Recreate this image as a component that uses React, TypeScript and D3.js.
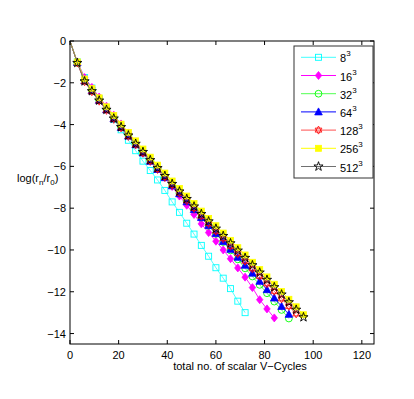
import React from 'react';
import * as d3 from 'd3';

// total no. of scalar V-cycles, one sample every 3 cycles
const cycles = [0, 3, 6, 9, 12, 15, 18, 21, 24, 27, 30, 33, 36, 39, 42, 45, 48, 51, 54, 57, 60, 63, 66, 69, 72, 75, 78, 81, 84, 87, 90, 93, 96];

const grids = ['8', '16', '32', '64', '128', '256', '512'];

const res8 = [0, -1.0, -1.75, -2.25, -2.75, -3.25, -3.75, -4.25, -4.75, -5.25, -5.75, -6.2, -6.65, -7.15, -7.7, -8.2, -8.72, -9.24, -9.78, -10.3, -10.85, -11.35, -11.85, -12.45, -13.0];
const res16 = [0, -1.0, -1.75, -2.22, -2.68, -3.12, -3.55, -3.97, -4.4, -4.83, -5.27, -5.7, -6.1, -6.52, -6.96, -7.42, -7.86, -8.3, -8.75, -9.17, -9.58, -10.0, -10.42, -10.86, -11.3, -11.8, -12.38, -12.82, -13.25];
const res32 = [0, -1.03, -1.88, -2.36, -2.82, -3.26, -3.69, -4.11, -4.52, -4.93, -5.33, -5.72, -6.11, -6.5, -6.89, -7.28, -7.67, -8.06, -8.45, -8.84, -9.23, -9.62, -10.02, -10.45, -10.88, -11.27, -11.67, -12.07, -12.47, -12.87, -13.28];
const res64 = [0, -1.03, -1.9, -2.38, -2.84, -3.29, -3.72, -4.14, -4.55, -4.96, -5.36, -5.76, -6.15, -6.54, -6.93, -7.31, -7.69, -8.07, -8.45, -8.83, -9.21, -9.59, -9.97, -10.35, -10.73, -11.11, -11.5, -11.9, -12.3, -12.7, -13.08];
const res128 = [0, -1.05, -1.95, -2.43, -2.88, -3.32, -3.75, -4.16, -4.57, -4.97, -5.37, -5.76, -6.15, -6.53, -6.91, -7.28, -7.65, -8.01, -8.38, -8.74, -9.1, -9.46, -9.82, -10.18, -10.54, -10.9, -11.26, -11.62, -11.98, -12.34, -12.7, -13.06];
const res256 = [0, -1.0, -1.82, -2.28, -2.72, -3.15, -3.57, -3.98, -4.38, -4.78, -5.17, -5.56, -5.94, -6.32, -6.7, -7.06, -7.42, -7.78, -8.14, -8.49, -8.84, -9.19, -9.54, -9.89, -10.24, -10.59, -10.94, -11.29, -11.64, -11.99, -12.36, -12.72, -13.1];
const res512 = [0, -1.05, -1.93, -2.4, -2.85, -3.29, -3.71, -4.12, -4.52, -4.92, -5.31, -5.7, -6.08, -6.46, -6.84, -7.2, -7.56, -7.92, -8.28, -8.63, -8.98, -9.33, -9.68, -10.03, -10.38, -10.73, -11.08, -11.43, -11.78, -12.13, -12.5, -12.86, -13.22];

const xTicks = [0, 20, 40, 60, 80, 100, 120];
const yTicks = [0, -2, -4, -6, -8, -10, -12, -14];

const allRes = [res8, res16, res32, res64, res128, res256, res512];
const colors = ['#00ffff', '#ff00ff', '#00ff00', '#0000ff', '#ff0000', '#ffff00', '#000000'];
const lineColors = ['#40ffff', '#ff00ff', '#50ff50', '#0000ff', '#ff5050', '#ffff00', '#707070'];
const markers = ['square', 'diamond', 'circle', 'triangle', 'hexagram', 'fsquare', 'star'];

const font = '"Liberation Sans", Arial, Helvetica, sans-serif';

function Marker({ kind, x, y, color }: { kind: string; x: number; y: number; color: string }) {
  const t = `translate(${x},${y})`;
  switch (kind) {
    case 'square':
      return <rect x={x - 3} y={y - 3} width={6} height={6} fill="none" stroke={color} strokeWidth={0.9} />;
    case 'fsquare':
      return <rect x={x - 3} y={y - 3} width={6} height={6} fill={color} stroke={color} strokeWidth={0.8} />;
    case 'diamond':
      return <path transform={t} d="M0,-4L3.2,0L0,4L-3.2,0Z" fill={color} stroke={color} strokeWidth={0.8} />;
    case 'circle':
      return <circle cx={x} cy={y} r={3.4} fill="none" stroke={color} strokeWidth={0.9} />;
    case 'triangle':
      return <path transform={t} d="M0,-4L3.8,3L-3.8,3Z" fill={color} stroke={color} strokeWidth={0.8} />;
    case 'hexagram':
      return <path transform={t} d="M0,-4L3.4,2L-3.4,2Z M0,4L3.4,-2L-3.4,-2Z" fill="none" stroke={color} strokeWidth={0.8} />;
    case 'star':
      return <path transform={t} d={d3.symbol(d3.symbolStar, 26)() || ''} fill="none" stroke={color} strokeWidth={0.9} />;
    default:
      return null;
  }
}

export default function App() {
  const width = 414;
  const height = 399;
  const x = d3.scaleLinear().domain([0, 125]).range([70, 374]);
  const y = d3.scaleLinear().domain([0, -14.5]).range([41, 344]);
  const line = d3.line<number>().x((_, i) => x(cycles[i])).y(d => y(d));
  const fmt = (v: number) => (v < 0 ? '\u2212' + Math.abs(v) : String(v));

  const legX0 = 294, legY0 = 46, legW = 79, legH = 132;

  return (
    <svg width={width} height={height} style={{ position: 'absolute', left: 0, top: 0, background: '#fff' }} fontFamily={font}>
      <rect width={width} height={height} fill="#fff" />

      {/* series */}
      {allRes.map((res, s) => (
        <g key={s}>
          <path d={line(res) || ''} fill="none" stroke={lineColors[s]} strokeWidth={0.9} />
          {res.map((v, i) => (i === 0 ? null : (
            <Marker key={i} kind={markers[s]} x={x(cycles[i])} y={y(v)} color={colors[s]} />
          )))}
        </g>
      ))}

      {/* axes box */}
      <rect x={x(0)} y={y(0)} width={x(125) - x(0)} height={y(-14.5) - y(0)} fill="none" stroke="#000" strokeWidth={1} />
      {xTicks.map(t => (
        <g key={t}>
          <line x1={x(t)} x2={x(t)} y1={y(-14.5)} y2={y(-14.5) - 4} stroke="#000" />
          <line x1={x(t)} x2={x(t)} y1={y(0)} y2={y(0) + 4} stroke="#000" />
          <text x={x(t)} y={y(-14.5) + 15} textAnchor="middle" fontSize={11}>{fmt(t)}</text>
        </g>
      ))}
      {yTicks.map(t => (
        <g key={t}>
          <line x1={x(0)} x2={x(0) + 4} y1={y(t)} y2={y(t)} stroke="#000" />
          <line x1={x(125)} x2={x(125) - 4} y1={y(t)} y2={y(t)} stroke="#000" />
          <text x={x(0) - 4} y={y(t) + 4} textAnchor="end" fontSize={11}>{fmt(t)}</text>
        </g>
      ))}

      <text x={240} y={370} textAnchor="middle" fontSize={11}>total no. of scalar V{'\u2212'}Cycles</text>
      <text x={17} y={182} fontSize={11}>
        log(r<tspan fontSize={8} dy={3}>n</tspan><tspan dy={-3}>/r</tspan><tspan fontSize={8} dy={3}>0</tspan><tspan dy={-3}>)</tspan>
      </text>

      {/* legend */}
      <rect x={legX0} y={legY0} width={legW} height={legH} fill="#fff" stroke="#333" strokeWidth={1} />
      {grids.map((g, i) => {
        const ly = 57.3 + i * 18.2;
        return (
          <g key={g}>
            <line x1={301} x2={336} y1={ly} y2={ly} stroke={lineColors[i]} strokeWidth={1} />
            <Marker kind={markers[i]} x={318.5} y={ly} color={colors[i]} />
            <text x={340} y={ly + 5} fontSize={11}>
              {g}<tspan fontSize={8} dy={-6}>3</tspan>
            </text>
          </g>
        );
      })}
    </svg>
  );
}
